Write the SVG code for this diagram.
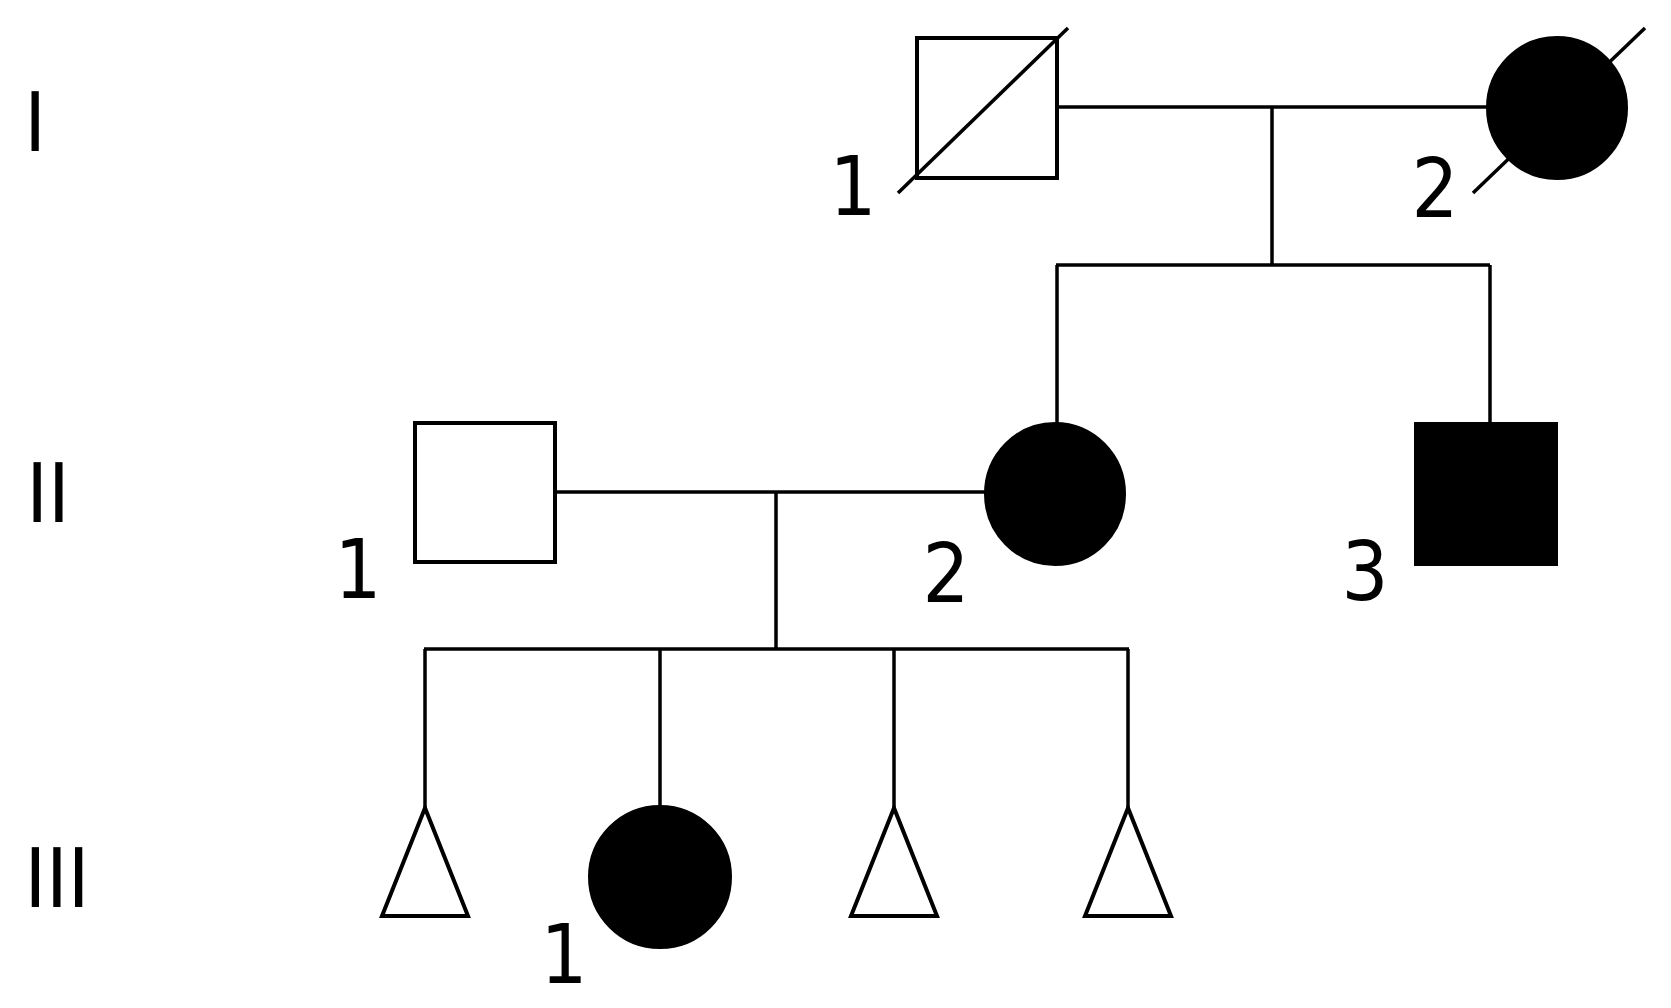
<svg xmlns="http://www.w3.org/2000/svg" width="1671" height="1008" viewBox="0 0 1671 1008">
<style>
.ln{stroke:#000;stroke-width:3.5;fill:none;stroke-linecap:butt}
.open{fill:#fff;stroke:#000;stroke-width:4}
.fill{fill:#000;stroke:#000;stroke-width:2}
.lbl{font-family:"DejaVu Sans Condensed","DejaVu Sans",sans-serif;font-size:82px;fill:#000;text-anchor:middle}
</style>
<rect width="1671" height="1008" fill="#fff"/>
<g id="connectors">
<line class="ln" x1="1057" y1="107" x2="1487" y2="107"/>
<line class="ln" x1="1272" y1="107" x2="1272" y2="265"/>
<line class="ln" x1="1056" y1="265" x2="1490" y2="265"/>
<line class="ln" x1="1057" y1="265" x2="1057" y2="423"/>
<line class="ln" x1="1490" y1="265" x2="1490" y2="423"/>
<line class="ln" x1="555" y1="492" x2="985" y2="492"/>
<line class="ln" x1="776" y1="492" x2="776" y2="649"/>
<line class="ln" x1="424" y1="649" x2="1129" y2="649"/>
<line class="ln" x1="425" y1="649" x2="425" y2="808"/>
<line class="ln" x1="660" y1="649" x2="660" y2="806"/>
<line class="ln" x1="894" y1="649" x2="894" y2="808"/>
<line class="ln" x1="1128" y1="649" x2="1128" y2="808"/>
</g>
<g id="gen-labels">
<text class="lbl" x="35" y="151">I</text>
<text class="lbl" x="48" y="522">II</text>
<text class="lbl" x="57" y="907">III</text>
</g>
<g id="I-1">
<rect class="open" x="917" y="38" width="140" height="140"/>
<line class="ln" x1="898" y1="193" x2="1068" y2="28"/>
<text class="lbl" x="853" y="215">1</text>
</g>
<g id="I-2">
<ellipse class="fill" cx="1557" cy="108" rx="70" ry="71"/>
<line class="ln" x1="1473" y1="193" x2="1645" y2="28"/>
<text class="lbl" x="1435" y="217">2</text>
</g>
<g id="II-1">
<rect class="open" x="415" y="423" width="140" height="139"/>
<text class="lbl" x="358" y="598">1</text>
</g>
<g id="II-2">
<ellipse class="fill" cx="1055" cy="494" rx="70" ry="71"/>
<text class="lbl" x="946" y="602">2</text>
</g>
<g id="II-3">
<rect class="fill" x="1415" y="423" width="142" height="142"/>
<text class="lbl" x="1365" y="600">3</text>
</g>
<g id="III-a">
<polygon class="open" points="425,808 382,916 468,916"/>
</g>
<g id="III-1">
<ellipse class="fill" cx="660" cy="877" rx="71" ry="71"/>
<text class="lbl" x="564" y="983">1</text>
</g>
<g id="III-b">
<polygon class="open" points="894,808 851,916 937,916"/>
</g>
<g id="III-c">
<polygon class="open" points="1128,808 1085,916 1171,916"/>
</g>
</svg>
